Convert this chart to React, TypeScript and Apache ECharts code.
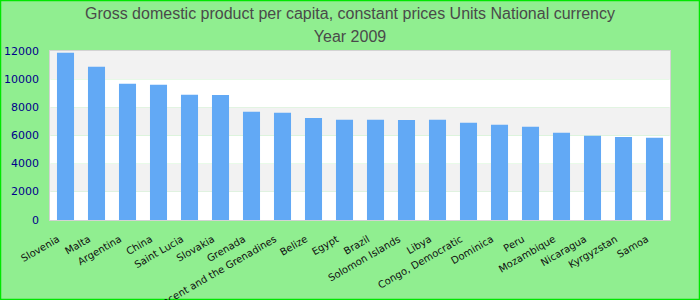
import React, { useEffect, useRef } from "react";
import * as echarts from "echarts";

const titleLines = [
  "Gross domestic product per capita, constant prices Units National currency",
  "Year 2009",
];

const categories = [
  "Slovenia",
  "Malta",
  "Argentina",
  "China",
  "Saint Lucia",
  "Slovakia",
  "Grenada",
  "Saint Vincent and the Grenadines",
  "Belize",
  "Egypt",
  "Brazil",
  "Solomon Islands",
  "Libya",
  "Congo, Democratic",
  "Dominica",
  "Peru",
  "Mozambique",
  "Nicaragua",
  "Kyrgyzstan",
  "Samoa",
];

const values = [
  11880, 10880, 9670, 9600, 8890, 8880, 7680, 7610, 7250, 7110, 7110, 7100,
  7110, 6900, 6760, 6620, 6190, 5980, 5900, 5840,
];

const yMin = 0;
const yMax = 12000;
const yInterval = 2000;

export default function App() {
  const ref = useRef<HTMLDivElement>(null);
  useEffect(() => {
    document.body.style.margin = "0";
    const chart = echarts.init(ref.current!, null, { renderer: "svg" });
    chart.setOption({
      animation: false,
      backgroundColor: "#90ee90",
      title: {
        text: titleLines.join("\n"),
        left: "center",
        top: -3,
        textStyle: {
          fontFamily: "Liberation Sans, Arial, sans-serif",
          fontSize: 16,
          fontWeight: "normal",
          color: "#4a4a4a",
          lineHeight: 23,
        },
      },
      graphic: [
        {
          type: "rect",
          shape: { x: 0.5, y: 0.5, width: 699, height: 299 },
          style: { fill: "none", stroke: "#00e600", lineWidth: 1.5 },
          silent: true,
        },
      ],
      grid: {
        left: 50,
        right: 30,
        top: 51,
        bottom: 80,
        outerBoundsMode: "none",
        containLabel: false,
        show: true,
        borderColor: "#d3d3d3",
        borderWidth: 2,
        backgroundColor: "transparent",
      },
      xAxis: {
        type: "category",
        data: categories,
        axisLine: { show: false },
        axisTick: { show: false },
        axisLabel: {
          interval: 0,
          rotate: 30,
          margin: 14,
          formatter: (v: string) => `{t|${v}}{g|}`,
          rich: {
            t: {
              fontFamily: "DejaVu Sans, Verdana, sans-serif",
              fontSize: 10,
              color: "#111",
            },
            g: { width: 8 },
          },
          fontFamily: "DejaVu Sans, Verdana, sans-serif",
          fontSize: 10,
          color: "#111",
        },
      },
      yAxis: {
        type: "value",
        min: yMin,
        max: yMax,
        interval: yInterval,
        axisLine: { show: false },
        axisTick: { show: false },
        splitLine: { show: false },
        splitArea: {
          show: true,
          areaStyle: { color: ["#ffffff", "#f2f2f2"] },
        },
        axisLabel: {
          margin: 11,
          fontFamily: "DejaVu Sans, Verdana, sans-serif",
          fontSize: 11,
          color: "#00008b",
          formatter: (v: number) => String(v),
        },
      },
      series: [
        {
          type: "bar",
          data: values,
          barWidth: "55%",
          itemStyle: { color: "#62a9f5" },
        },
      ],
    });
    return () => chart.dispose();
  }, []);
  return <div ref={ref} style={{ width: 700, height: 300 }} />;
}
